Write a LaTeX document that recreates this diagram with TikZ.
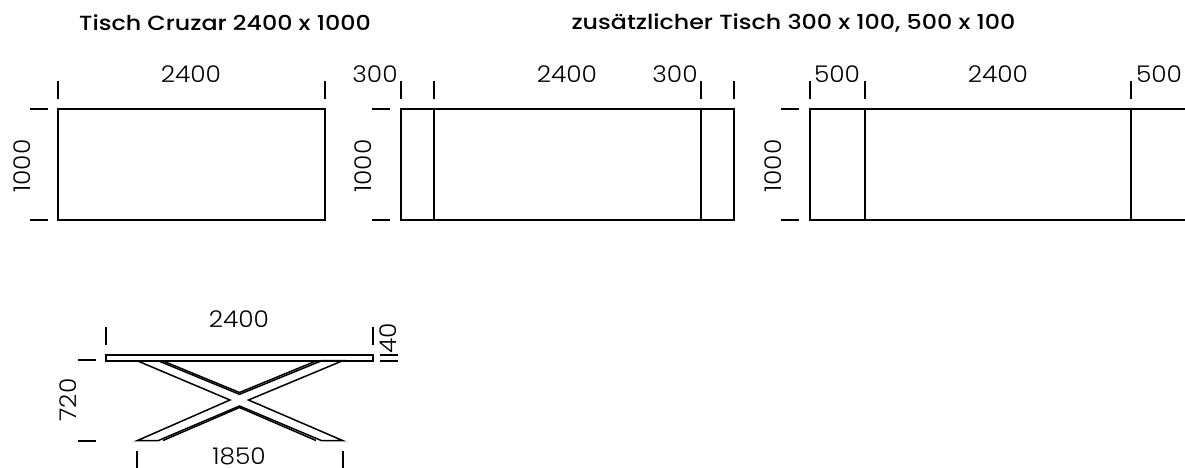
\documentclass[tikz,border=0pt]{standalone}
\usepackage{fontspec}
\setmainfont{Poppins}
\newfontfamily\dimfont[FakeStretch=1.08]{Poppins Light}
\newfontfamily\titlefont[FakeStretch=1.16]{Poppins Medium}
\tikzset{
  outline/.style={line width=2pt,line join=miter},
  tick/.style={line width=2pt},
  thinline/.style={line width=1.5pt,line join=miter},
  dimlabel/.style={inner sep=0pt,font=\dimfont\fontsize{23}{25}\selectfont,text=black},
  titlelabel/.style={inner sep=0pt,font=\titlefont\fontsize{20.5}{24}\selectfont},
}
\begin{document}
\begin{tikzpicture}[x=1pt,y=-1pt]
\useasboundingbox (0,0) rectangle (1185,468);
% titles
\node[titlelabel] (t1) at (225,23) {Tisch Cruzar 2400 x 1000};
\node[titlelabel] (t2) at (793.5,23) {zusätzlicher Tisch 300 x 100, 500 x 100};
% table 1
\draw[outline] (58,109) rectangle (325,220);
\foreach \x in {58,325} \draw[tick] (\x,81) -- (\x,99);
\foreach \y in {109,220} \draw[tick] (30,\y) -- (48,\y);
\node[dimlabel] (a1) at (191,74) {2400};
\node[dimlabel,rotate=90] (a2) at (22,166) {1000};
% table 2
\draw[outline] (401,109) rectangle (734,220);
\draw[outline] (434,109) -- (434,220);
\draw[outline] (701,109) -- (701,220);
\foreach \x in {401,434,701,734} \draw[tick] (\x,81) -- (\x,99);
\foreach \y in {109,220} \draw[tick] (372,\y) -- (390,\y);
\node[dimlabel] (b1) at (375,74) {300};
\node[dimlabel] (b2) at (567,74) {2400};
\node[dimlabel] (b3) at (675,74) {300};
\node[dimlabel,rotate=90] (b4) at (363,166) {1000};
% table 3
\draw[outline] (1186,109) -- (810,109) -- (810,220) -- (1186,220);
\draw[outline] (865,109) -- (865,220);
\draw[outline] (1131,109) -- (1131,220);
\foreach \x in {810,865,1131} \draw[tick] (\x,81) -- (\x,99);
\foreach \y in {109,220} \draw[tick] (781,\y) -- (799,\y);
\node[dimlabel] (c1) at (837,74) {500};
\node[dimlabel] (c2) at (998,74) {2400};
\node[dimlabel] (c3) at (1159,74) {500};
\node[dimlabel,rotate=90] (c4) at (773,166) {1000};
% side view
\draw[outline] (106,355) rectangle (373,360.7);
\draw[thinline] (137,360.7) -- (230,400) -- (137,440.7) -- (158,440.7) -- (239.5,406)
  -- (321.7,440.7) -- (343,440.7) -- (248.5,400) -- (342.7,360.7) -- (321.7,360.7)
  -- (239.5,394.3) -- (158,360.7);
\draw[thinline] (163,361) -- (239.5,392.5) -- (316,361);
\draw[thinline] (163,440.5) -- (239.5,407.5) -- (316,440.5);
\draw[tick] (106,327) -- (106,345);
\draw[tick] (373,327) -- (373,345);
\foreach \y in {355,361} \draw[tick] (380,\y) -- (398,\y);
\foreach \y in {360,441} \draw[tick] (78,\y) -- (96,\y);
\foreach \x in {137,342.5} \draw[tick] (\x,451) -- (\x,468);
\node[dimlabel] (d1) at (239,319) {2400};
\node[dimlabel,rotate=90] (d2) at (388.5,338.5) {40};
\node[dimlabel,rotate=90] (d3) at (68.5,400) {720};
\node[dimlabel] (d4) at (239,456.5) {1850};
\end{tikzpicture}
\end{document}
